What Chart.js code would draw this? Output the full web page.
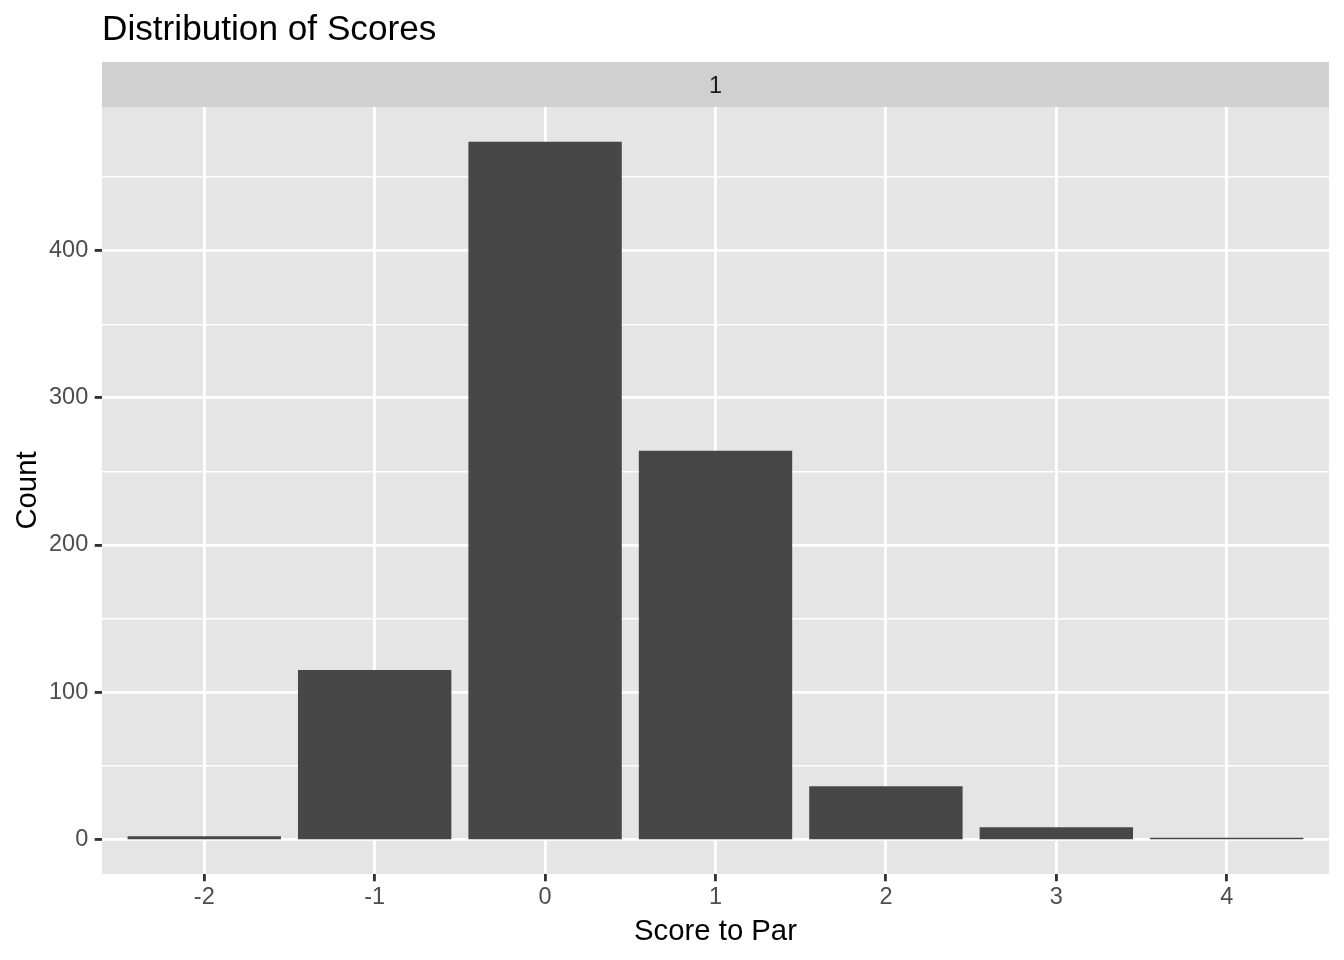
<!DOCTYPE html>
<html><head><meta charset="utf-8">
<script src="https://cdn.jsdelivr.net/npm/chart.js@4.4.1/dist/chart.umd.min.js"></script>
<style>html,body{margin:0;padding:0;background:#fff}canvas{display:block}</style>
</head><body>
<canvas id="c" width="1344" height="960"></canvas>
<script>
// ---- data ----
const categories = [-2, -1, 0, 1, 2, 3, 4];
const counts = [2, 115, 474, 264, 36, 8, 1];
const yTickValues = [0, 50, 100, 150, 200, 250, 300, 350, 400, 450];
const yMajorStep = 100;
const titleText = 'Distribution of Scores';
const facetLabel = '1';
const xTitle = 'Score to Par';
const yTitle = 'Count';

// ---- styling ----
const FONT = '"Liberation Sans", Arial, Helvetica, sans-serif';
const PANEL_BG = '#E5E5E5';
const STRIP_BG = '#D0D0D0';
const BAR_COLOR = '#474747';
const TICK_TEXT = '#4D4D4D';

const yMaxData = Math.max(...counts);
const yPad = yMaxData * 0.05;
const xPad = 0.6;

const deco = {
  id: 'deco',
  beforeDraw(chart) {
    const { ctx, chartArea: a } = chart;
    ctx.save();
    ctx.fillStyle = '#ffffff';
    ctx.fillRect(0, 0, chart.width, chart.height);
    ctx.fillStyle = PANEL_BG;
    ctx.fillRect(a.left, a.top, a.right - a.left, a.bottom - a.top);
    ctx.fillStyle = STRIP_BG;
    ctx.fillRect(a.left, 62, a.right - a.left, a.top - 62);
    ctx.restore();
  },
  afterDraw(chart) {
    const { ctx, chartArea: a } = chart;
    ctx.save();
    ctx.textBaseline = 'alphabetic';
    // title
    ctx.fillStyle = '#000000';
    ctx.font = '35.2px ' + FONT;
    ctx.textAlign = 'left';
    ctx.fillText(titleText, a.left, 40);
    // strip label
    ctx.fillStyle = '#1A1A1A';
    ctx.font = '23.5px ' + FONT;
    ctx.textAlign = 'center';
    ctx.fillText(facetLabel, (a.left + a.right) / 2, 93);
    // x title
    ctx.fillStyle = '#000000';
    ctx.font = '29.3px ' + FONT;
    ctx.fillText(xTitle, (a.left + a.right) / 2, 940);
    // y title
    ctx.translate(36, (a.top + a.bottom) / 2);
    ctx.rotate(-Math.PI / 2);
    ctx.fillText(yTitle, 0, 0);
    ctx.restore();
  }
};

const isMajor = (c) => c.tick && Math.abs(c.tick.value % yMajorStep) < 1e-9;

new Chart(document.getElementById('c'), {
  type: 'bar',
  data: {
    datasets: [{
      data: categories.map((x, i) => ({ x: x, y: counts[i] })),
      backgroundColor: BAR_COLOR,
      borderWidth: 0,
      barPercentage: 0.9,
      categoryPercentage: 1.0,
      base: -1e-9   // start bars at zero without Chart.js shifting them above the zero gridline
    }]
  },
  options: {
    responsive: false,
    animation: false,
    devicePixelRatio: 1,
    layout: { padding: { top: 107, right: 15, left: 0, bottom: 0 } },
    plugins: { legend: { display: false }, tooltip: { enabled: false }, title: { display: false } },
    scales: {
      x: {
        type: 'linear',
        min: categories[0] - xPad,
        max: categories[categories.length - 1] + xPad,
        offset: false,
        afterBuildTicks: (s) => { s.ticks = categories.map(v => ({ value: v })); },
        afterFit: (s) => { s.height = 86; },
        border: { display: false },
        grid: { offset: false, color: '#ffffff', lineWidth: 2.85, drawTicks: true, tickLength: 7.3, tickWidth: 2.85, tickColor: '#333333' },
        ticks: { padding: 2, autoSkip: false, maxRotation: 0, color: TICK_TEXT, font: { family: FONT, size: 23.5 },
          callback: (v) => String(v) }
      },
      y: {
        type: 'linear',
        min: -yPad,
        max: yMaxData + yPad,
        afterBuildTicks: (s) => { s.ticks = yTickValues.map(v => ({ value: v })); },
        afterFit: (s) => { s.width = 102; },
        border: { display: false },
        grid: {
          color: '#ffffff',
          lineWidth: (c) => isMajor(c) ? 2.85 : 1.42,
          drawTicks: true, tickLength: 7.3, tickWidth: 2.85,
          tickColor: (c) => isMajor(c) ? '#333333' : 'rgba(0,0,0,0)'
        },
        ticks: { padding: 6.5, autoSkip: false, color: TICK_TEXT, font: { family: FONT, size: 23.5 },
          callback: (v) => (Math.abs(v % yMajorStep) < 1e-9 ? String(v) : '') }
      }
    }
  },
  plugins: [deco]
});
</script>
</body></html>
